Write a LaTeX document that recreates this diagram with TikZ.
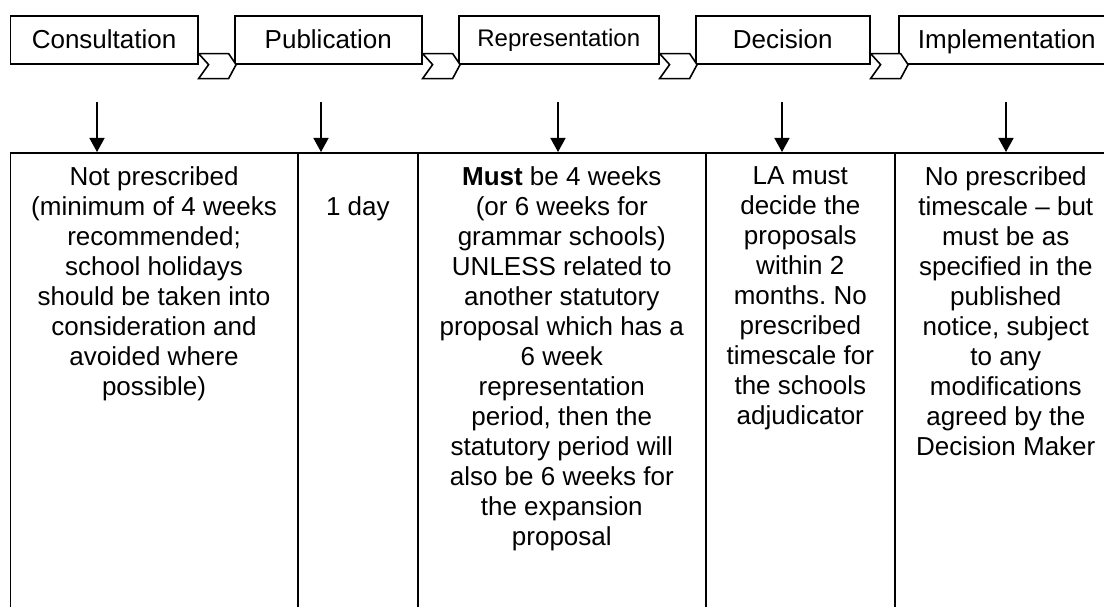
\documentclass[tikz,border=0pt]{standalone}
\usepackage{fontspec}
\setmainfont{Liberation Sans}
\usetikzlibrary{arrows.meta,calc}
\frenchspacing
\begin{document}
\begin{tikzpicture}[x=1pt,y=-1pt,
  stage/.style={draw, line width=1.6pt, minimum height=48pt, inner sep=0pt, anchor=north west, text height=18.7pt, text depth=1.7pt, font=\fontsize{26}{30}\selectfont},
  cell/.style={draw, line width=1.6pt, inner sep=0pt, anchor=north west, minimum height=480pt},
  celltext/.style={anchor=north, inner sep=0pt, align=center, font=\fontsize{26}{30}\selectfont},
  chev/.style={draw, line width=1.6pt, fill=white, line join=miter},
  arr/.style={line width=1.6pt, -{Triangle[width=15pt,length=14pt]}}]
\clip (0,0) rectangle (1104,607);
\fill[white] (0,0) rectangle (1104,607);
% stage boxes
\node[stage, minimum width=187.5pt] (b1) at (9.5,15) {Consultation};
\node[stage, minimum width=187pt] (b2) at (234,15) {Publication};
\node[stage, minimum width=200pt, text height=17pt, text depth=3pt, font=\fontsize{24}{28}\selectfont] (b3) at (458,15) {Representation};
\node[stage, minimum width=174pt] (b4) at (695,15) {Decision};
\node[stage, minimum width=216pt] (b5) at (898,15) {Implementation};
% chevrons
\foreach \a in {b1,b2,b3,b4} {
  \draw[chev] ($(\a.south east)+(0,-11)$) -- ++(30,0) -- ++(7.5,11) -- ++(-7.5,14) -- ++(-30,0) -- ++(10,-14) -- cycle;
}
% table cells
\node[cell, minimum width=287.5pt] (c1) at (9.5,152) {};
\node[cell, minimum width=120pt] (c2) at (297,152) {};
\node[cell, minimum width=288pt] (c3) at (417,152) {};
\node[cell, minimum width=189pt] (c4) at (705,152) {};
\node[cell, minimum width=222pt] (c5) at (894,152) {};
% cell texts
\node[celltext] (t1) at ($(c1.north)+(0,14)$) {Not prescribed\\(minimum of 4 weeks\\recommended;\\school holidays\\should be taken into\\consideration and\\avoided where\\possible)};
\node[celltext] (t2) at ($(c2.north)+(0,44)$) {1 day};
\node[celltext] (t3) at ($(c3.north)+(0,14)$) {\textbf{Must} be 4 weeks\\(or 6 weeks for\\grammar schools)\\UNLESS related to\\another statutory\\proposal which has a\\6 week\\representation\\period, then the\\statutory period will\\also be 6 weeks for\\the expansion\\proposal};
\node[celltext] (t4) at ($(c4.north)+(0,14)$) {LA must\\decide the\\proposals\\within 2\\months. No\\prescribed\\timescale for\\the schools\\adjudicator};
\node[celltext] (t5) at ($(c5.north)+(0,14)$) {No prescribed\\timescale – but\\must be as\\specified in the\\published\\notice, subject\\to any\\modifications\\agreed by the\\Decision Maker};
% arrows
\coordinate (a1) at (97,102);
\coordinate (a2) at (321,102);
\coordinate (a3) at (558,102);
\coordinate (a4) at (782,102);
\coordinate (a5) at (1006,102);
\draw[arr] (a1) -- (a1 |- c1.north);
\draw[arr] (a2) -- (a2 |- c2.north);
\draw[arr] (a3) -- (a3 |- c3.north);
\draw[arr] (a4) -- (a4 |- c4.north);
\draw[arr] (a5) -- (a5 |- c5.north);
\end{tikzpicture}
\end{document}
